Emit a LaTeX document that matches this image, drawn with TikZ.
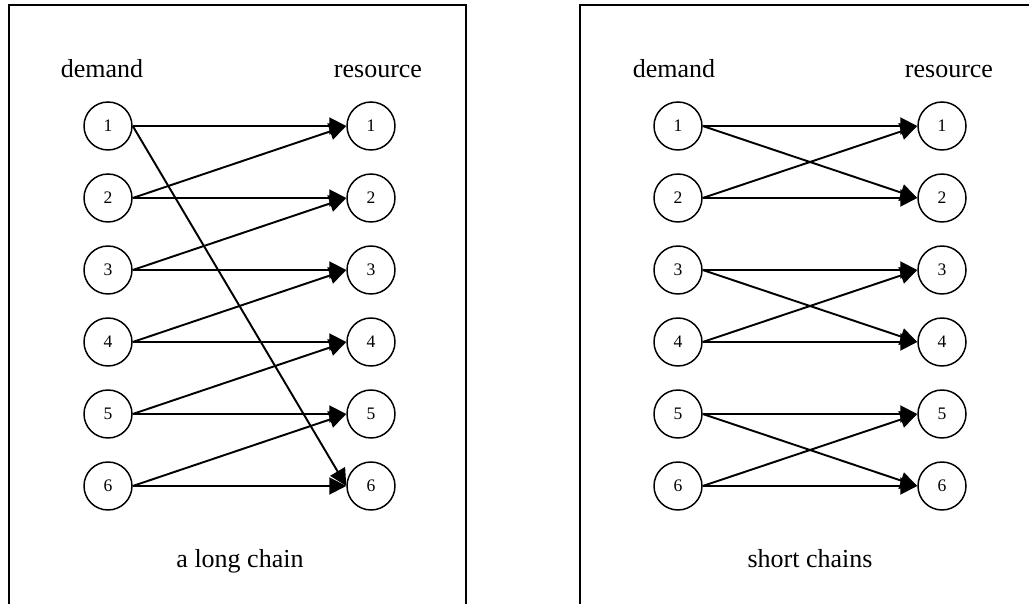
\documentclass[tikz,border=0pt]{standalone}
\usepackage{fontspec}
\setmainfont{Liberation Serif}
\usetikzlibrary{arrows.meta}

\tikzset{
  vertex/.style={draw, circle, line width=0.85pt, minimum size=0.96cm, inner sep=0pt,
                 font=\fontsize{10pt}{12pt}\selectfont},
  label/.style={anchor=base, font=\fontsize{14.8pt}{18pt}\selectfont},
  edge/.style={line width=1.1pt, ->},
}

\begin{document}
\begin{tikzpicture}[x=0.02cm, y=-0.02cm, >={Triangle[length=3.4mm, width=3.4mm]}]
\useasboundingbox (0,0) rectangle (1029,604);

% the two frames
\draw[line width=1.1pt] (9,610) -- (9,5) -- (466,5) -- (466,610);
\draw[line width=1.1pt] (580,610) -- (580,5) -- (1035,5);

% column heads and captions
\node[label] (lhd) at (102,78) {demand};
\node[label] (lhr) at (378,78) {resource};
\node[label] (rhd) at (674,78) {demand};
\node[label] (rhr) at (949,78) {resource};
\node[label] (lcap) at (240,568) {a long chain};
\node[label] (rcap) at (810,568) {short chains};

% demand and resource vertices
\foreach \i in {1,...,6} {
  \node[vertex] (ld\i) at (108,54+72*\i) {\i};
  \node[vertex] (lr\i) at (371,54+72*\i) {\i};
  \node[vertex] (rd\i) at (678,54+72*\i) {\i};
  \node[vertex] (rr\i) at (942,54+72*\i) {\i};
}

% one long chain
\draw[edge] (ld1.east) -- (lr1.west);
\draw[edge] (ld1.east) -- (lr6.west);
\draw[edge] (ld2.east) -- (lr1.west);
\draw[edge] (ld2.east) -- (lr2.west);
\draw[edge] (ld3.east) -- (lr2.west);
\draw[edge] (ld3.east) -- (lr3.west);
\draw[edge] (ld4.east) -- (lr3.west);
\draw[edge] (ld4.east) -- (lr4.west);
\draw[edge] (ld5.east) -- (lr4.west);
\draw[edge] (ld5.east) -- (lr5.west);
\draw[edge] (ld6.east) -- (lr5.west);
\draw[edge] (ld6.east) -- (lr6.west);

% three short chains
\draw[edge] (rd1.east) -- (rr1.west);
\draw[edge] (rd1.east) -- (rr2.west);
\draw[edge] (rd2.east) -- (rr1.west);
\draw[edge] (rd2.east) -- (rr2.west);
\draw[edge] (rd3.east) -- (rr3.west);
\draw[edge] (rd3.east) -- (rr4.west);
\draw[edge] (rd4.east) -- (rr3.west);
\draw[edge] (rd4.east) -- (rr4.west);
\draw[edge] (rd5.east) -- (rr5.west);
\draw[edge] (rd5.east) -- (rr6.west);
\draw[edge] (rd6.east) -- (rr5.west);
\draw[edge] (rd6.east) -- (rr6.west);
\end{tikzpicture}
\end{document}
